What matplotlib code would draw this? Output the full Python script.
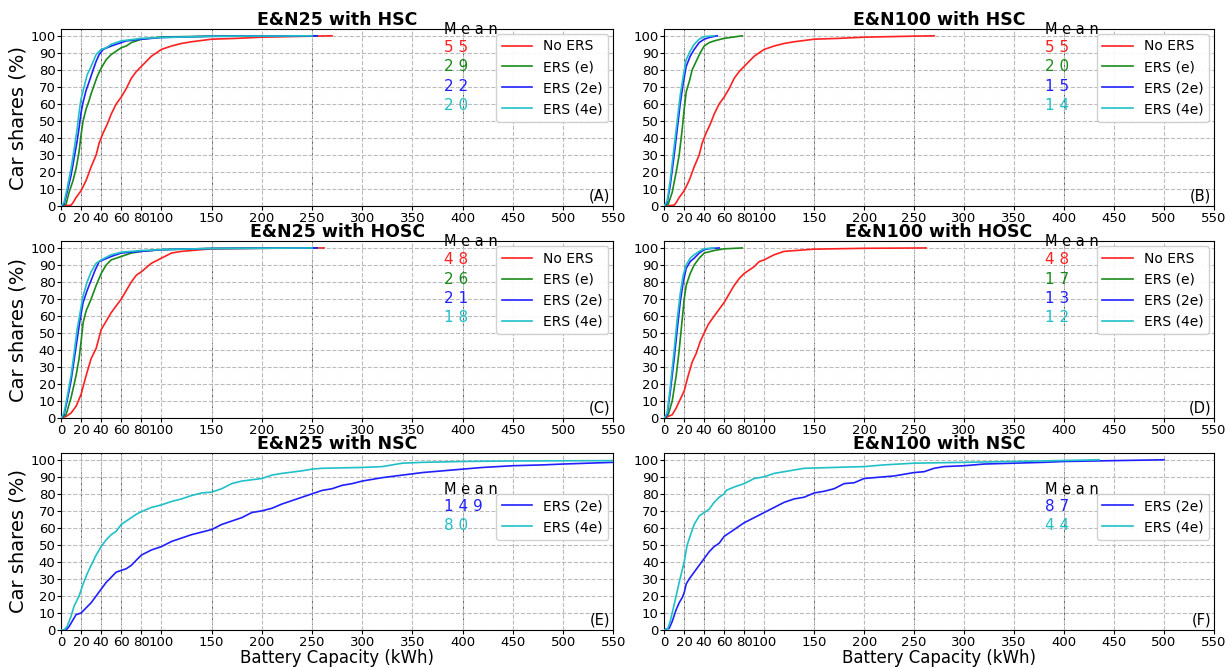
import matplotlib.pyplot as plt

# ------ data ------
titles = ["E&N25 with HSC", "E&N100 with HSC", "E&N25 with HOSC",
          "E&N100 with HOSC", "E&N25 with NSC", "E&N100 with NSC"]
panel_tags = ["(A)", "(B)", "(C)", "(D)", "(E)", "(F)"]
xticks = [0, 20, 40, 60, 80, 100, 150, 200, 250, 300, 350, 400, 450, 500, 550]
yticks = list(range(0, 101, 10))

# panel A
a_no_x = [0, 10, 12, 15, 20, 25, 30, 35, 38, 42, 46, 50, 55, 60, 65, 70, 75, 80, 85, 90, 100, 110, 120, 130, 150, 175, 200, 250, 270]
a_no_y = [0, 0.5, 2, 5, 9, 15, 23, 30, 37, 43, 48, 54, 60, 64, 69, 75, 79, 82, 85, 88, 92, 94, 95.5, 96.5, 98, 98.5, 99.2, 99.8, 100]
a_e_x = [0, 5, 8, 12, 15, 18, 20, 22, 25, 28, 30, 33, 36, 40, 45, 50, 55, 60, 65, 70, 80, 100, 150, 255]
a_e_y = [0, 1, 8, 15, 22, 32, 42, 50, 57, 62, 66, 71, 76, 81, 86, 89, 91, 93, 94, 96, 98, 99.3, 99.8, 100]
a_2e_x = [0, 3, 6, 10, 13, 16, 18, 20, 22, 25, 28, 32, 35, 38, 42, 50, 60, 65, 80, 100, 150, 255]
a_2e_y = [0, 1, 8, 18, 28, 38, 46, 55, 61, 68, 73, 80, 85, 89, 92, 94, 96, 97, 98, 99, 99.7, 100]
a_4e_x = [0, 3, 6, 10, 13, 16, 18, 20, 23, 26, 30, 35, 40, 45, 50, 60, 80, 100, 150, 250]
a_4e_y = [0, 2, 10, 22, 33, 45, 55, 63, 70, 77, 82, 89, 92, 93, 95, 97, 98.5, 99, 99.7, 100]

# panel B
b_no_x = [0, 10, 12, 15, 20, 25, 30, 35, 38, 42, 46, 50, 55, 60, 65, 70, 75, 80, 85, 90, 100, 110, 120, 130, 150, 175, 200, 250, 270]
b_no_y = [0, 0.5, 2, 5, 9, 15, 23, 30, 37, 43, 48, 54, 60, 64, 69, 75, 79, 82, 85, 88, 92, 94, 95.5, 96.5, 98, 98.5, 99.2, 99.8, 100]
b_e_x = [0, 4, 8, 12, 15, 18, 20, 22, 25, 28, 32, 36, 40, 45, 50, 60, 78]
b_e_y = [0, 1, 8, 20, 30, 45, 57, 67, 73, 80, 85, 90, 94, 96, 97, 98.5, 100]
b_2e_x = [0, 3, 6, 10, 13, 16, 19, 22, 26, 30, 35, 40, 45, 53]
b_2e_y = [0, 2, 12, 30, 45, 60, 72, 82, 88, 92, 96, 98, 99, 100]
b_4e_x = [0, 3, 6, 10, 13, 16, 19, 22, 26, 30, 35, 40, 50]
b_4e_y = [0, 3, 15, 35, 50, 65, 76, 86, 91, 95, 98, 99.5, 100]

# panel C
c_no_x = [0, 5, 10, 15, 20, 25, 30, 35, 40, 45, 50, 55, 60, 65, 70, 75, 80, 90, 100, 110, 120, 150, 200, 262]
c_no_y = [0, 1, 3, 7, 14, 25, 35, 41, 52, 57, 62, 66, 70, 75, 80, 84, 86, 91, 94, 97, 98, 99.5, 99.8, 100]
c_e_x = [0, 5, 10, 15, 18, 20, 22, 25, 30, 35, 40, 45, 50, 55, 60, 65, 70, 80, 100, 150, 255]
c_e_y = [0, 2, 12, 25, 35, 45, 56, 63, 70, 78, 85, 90, 93, 94, 95, 96, 97, 98, 99, 99.7, 100]
c_2e_x = [0, 3, 6, 10, 13, 16, 19, 22, 26, 30, 34, 38, 42, 50, 60, 80, 100, 150, 255]
c_2e_y = [0, 2, 10, 22, 34, 46, 58, 68, 75, 81, 87, 92, 93, 95, 97, 98, 99, 99.7, 100]
c_4e_x = [0, 3, 6, 10, 13, 16, 19, 22, 26, 30, 35, 40, 50, 60, 80, 100, 150, 250]
c_4e_y = [0, 3, 12, 25, 38, 52, 62, 72, 80, 86, 91, 93, 96, 97.5, 98.5, 99, 99.7, 100]

# panel D
d_no_x = [0, 4, 8, 12, 16, 20, 24, 28, 32, 36, 40, 44, 50, 55, 60, 65, 70, 75, 80, 90, 95, 100, 110, 120, 150, 200, 262]
d_no_y = [0, 1, 2, 6, 11, 16, 25, 33, 38, 45, 50, 55, 60, 64, 68, 73, 78, 82, 85, 89, 92, 93, 96, 98, 99.3, 99.8, 100]
d_e_x = [0, 4, 8, 12, 15, 18, 20, 22, 26, 30, 35, 40, 50, 60, 78]
d_e_y = [0, 2, 10, 25, 40, 58, 70, 78, 85, 90, 94, 97, 98.5, 99.5, 100]
d_2e_x = [0, 3, 6, 10, 13, 16, 19, 22, 26, 30, 35, 40, 45, 55]
d_2e_y = [0, 2, 15, 35, 52, 68, 80, 88, 92, 94, 97, 99, 99.6, 100]
d_4e_x = [0, 3, 6, 10, 13, 16, 19, 22, 26, 30, 35, 40, 50]
d_4e_y = [0, 3, 18, 40, 58, 73, 84, 90, 94, 96, 98, 99.5, 100]

# panel E
e_2e_x = [0, 5, 8, 12, 15, 20, 25, 30, 35, 40, 45, 50, 55, 60, 65, 70, 75, 80, 90, 100, 110, 120, 130, 140, 150, 160, 170, 180, 190, 200,
          210, 220, 230, 240, 250, 260, 270, 280, 290, 300, 320, 340, 360, 380, 400, 420, 450, 480, 500, 550]
e_2e_y = [0, 0, 2, 6, 9, 10, 13, 16, 20, 24, 28, 31, 34, 35, 36, 38, 41, 44, 47, 49, 52, 54, 56, 57.5, 59, 62, 64, 66, 69, 70,
          71.5, 74, 76, 78, 80, 82, 83, 85, 86, 87.5, 89.5, 91, 92.5, 93.5, 94.5, 95.5, 96.5, 97, 97.5, 98.5]
e_4e_x = [0, 3, 6, 10, 13, 18, 22, 26, 30, 35, 40, 45, 50, 55, 60, 70, 75, 80, 90, 100, 110, 120, 130, 140, 150, 160, 170, 180,
          200, 210, 220, 240, 250, 260, 300, 320, 340, 360, 400, 450, 550]
e_4e_y = [0, 0, 2, 8, 14, 20, 27, 33, 38, 44, 49, 53, 56, 58, 62, 66, 68, 69.5, 72, 73.5, 75.5, 77, 79, 80.5, 81, 83, 86, 87.5,
          89, 91, 92, 93.5, 94.5, 95, 95.5, 96, 98, 98.5, 99, 99.3, 99.5]

# panel F
f_2e_x = [0, 5, 8, 12, 15, 18, 20, 22, 25, 30, 35, 40, 45, 50, 55, 60, 65, 70, 75, 80, 90, 100, 110, 120, 130, 140, 150, 160, 170,
          180, 190, 200, 220, 230, 240, 250, 260, 270, 280, 300, 320, 350, 380, 400, 450, 500]
f_2e_y = [0, 1, 5, 12, 16, 19, 22, 27, 30, 34, 38, 42, 46, 49, 51, 55, 57, 59, 61, 63, 66, 69, 72, 75, 77, 78, 80.5, 81.5, 83,
          86, 86.5, 89, 90, 90.5, 91.5, 92.5, 93, 95, 96, 96.5, 97.5, 98, 98.5, 99, 99.5, 100]
f_4e_x = [0, 3, 6, 10, 15, 20, 23, 27, 30, 35, 40, 45, 50, 55, 60, 62, 70, 80, 90, 100, 110, 120, 130, 140, 200, 220, 250, 300, 350, 435]
f_4e_y = [0, 0, 5, 15, 28, 40, 50, 57, 62, 67, 69, 71, 75, 78, 80, 82, 84, 86, 89, 90, 92, 93, 94, 95, 96, 97, 98, 98.5, 99, 100]

means_top = [[55, 29, 22, 20], [55, 20, 15, 14], [48, 26, 21, 18], [48, 17, 13, 12]]
means_bot = [[149, 80], [87, 44]]

labels4 = ["No ERS", "ERS (e)", "ERS (2e)", "ERS (4e)"]
colors4 = ["#ff2020", "#1a8a1a", "#2020ff", "#20c0c8"]

top_curves = [
    [(a_no_x, a_no_y), (a_e_x, a_e_y), (a_2e_x, a_2e_y), (a_4e_x, a_4e_y)],
    [(b_no_x, b_no_y), (b_e_x, b_e_y), (b_2e_x, b_2e_y), (b_4e_x, b_4e_y)],
    [(c_no_x, c_no_y), (c_e_x, c_e_y), (c_2e_x, c_2e_y), (c_4e_x, c_4e_y)],
    [(d_no_x, d_no_y), (d_e_x, d_e_y), (d_2e_x, d_2e_y), (d_4e_x, d_4e_y)],
]
bot_curves = [
    [(e_2e_x, e_2e_y), (e_4e_x, e_4e_y)],
    [(f_2e_x, f_2e_y), (f_4e_x, f_4e_y)],
]

def spaced(v):
    return " ".join(str(v))

fig = plt.figure(figsize=(12.3, 6.68), dpi=100)
lefts = [0.0496, 0.540]
widths = [0.449, 0.447]
bottoms = [0.6916, 0.374, 0.0569]
H = 0.265

axes = []
for r in range(3):
    for c in range(2):
        axes.append(fig.add_axes([lefts[c], bottoms[r], widths[c], H]))

for i, ax in enumerate(axes):
    col = i % 2
    row = i // 2
    ax.set_xlim(0, 550)
    ax.set_ylim(0, 104)
    ax.set_xticks(xticks)
    ax.set_yticks(yticks)
    ax.tick_params(labelsize=9.5, length=3, pad=1)
    ax.grid(True, linestyle='--', color='#bbbbbb', linewidth=0.8)
    # a few darker dashed guide lines
    dark = [20, 40, 60, 150, 250, 400] if col == 0 else [20, 40, 150, 250, 400]
    for xv in dark:
        ax.axvline(xv, color='#555555', linestyle='--', linewidth=0.7, zorder=1)
    ax.set_title(titles[i], fontsize=12.5, fontweight='bold', pad=3)
    ax.text(0.995, 0.015, panel_tags[i], transform=ax.transAxes, ha='right', va='bottom', fontsize=10.5)
    if col == 0:
        ax.set_ylabel("Car shares (%)", fontsize=14, labelpad=2)
    if row == 2:
        ax.set_xlabel("Battery Capacity (kWh)", fontsize=12, labelpad=0)

    if row < 2:
        for (xs, ys), lab, clr in zip(top_curves[i], labels4, colors4):
            ax.plot(xs, ys, color=clr, lw=1.2, label=lab, zorder=3)
        ax.legend(loc='upper right', fontsize=10, framealpha=0.9, handlelength=2.2,
                  borderaxespad=0.35, labelspacing=0.5)
        ax.text(381, 103.5, "M e a n", fontsize=10.5, va='center')
        for k, (m, clr) in enumerate(zip(means_top[i], colors4)):
            ax.text(381, 93 - k * 11.3, spaced(m), color=clr, fontsize=11, va='center')
    else:
        for (xs, ys), lab, clr in zip(bot_curves[col], labels4[2:], colors4[2:]):
            ax.plot(xs, ys, color=clr, lw=1.2, label=lab, zorder=3)
        ax.legend(loc='center right', bbox_to_anchor=(1.0, 0.64), fontsize=10, framealpha=0.9,
                  handlelength=2.2, borderaxespad=0.35, labelspacing=0.5)
        ax.text(381, 82.5, "M e a n", fontsize=10.5, va='center')
        for k, (m, clr) in enumerate(zip(means_bot[col], colors4[2:])):
            ax.text(381, 72.5 - k * 11.3, spaced(m), color=clr, fontsize=11, va='center')

fig.savefig("out.png", dpi=100)
